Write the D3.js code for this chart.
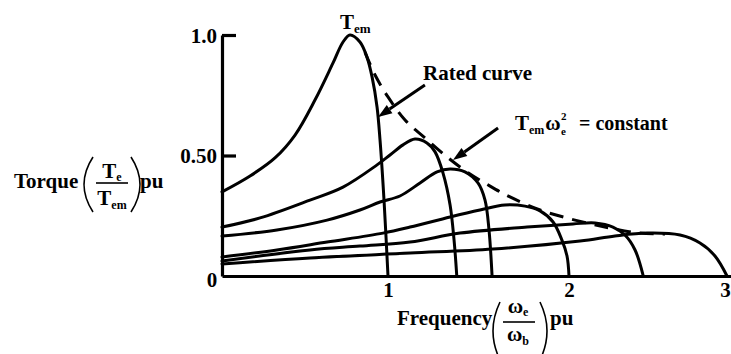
<!DOCTYPE html>
<html>
<head>
<meta charset="utf-8">
<script src="https://cdn.jsdelivr.net/npm/d3@7"></script>
<style>
  html, body { margin: 0; padding: 0; background: #fff; }
  svg { display: block; }
  text { font-family: "Liberation Serif", "Times New Roman", serif; font-weight: bold; fill: #000; }
</style>
</head>
<body>
<svg id="chart" width="731" height="354"></svg>
<script>
// Frequency (pu) and torque (pu) ticks
const freqTicks = [1, 2, 3];
const torqueTicks = [0.5, 1.0];
const torqueTickLabels = ["0.50", "1.0"];

// Torque-speed curves, [frequency pu, torque pu]
const ratedCurve = [
  [0, 0.349], [0.169, 0.415], [0.319, 0.490], [0.440, 0.585], [0.560, 0.730],
  [0.669, 0.884], [0.729, 0.971], [0.771, 1.0], [0.831, 0.971],
  [0.873, 0.909], [0.904, 0.826], [0.934, 0.701], [0.952, 0.564], [0.976, 0.315],
  [1.0, 0]
];
const curve2 = [
  [0, 0.203], [0.229, 0.241], [0.530, 0.315], [0.729, 0.369], [0.934, 0.461],
  [1.011, 0.502], [1.083, 0.544], [1.149, 0.568], [1.215, 0.552], [1.260, 0.515],
  [1.304, 0.427], [1.343, 0.295], [1.365, 0.149], [1.38, 0]
];
const curve3 = [
  [0, 0.166], [0.331, 0.191], [0.633, 0.232], [0.831, 0.274], [0.952, 0.307],
  [1.066, 0.332], [1.177, 0.386], [1.271, 0.432], [1.343, 0.444], [1.425, 0.432],
  [1.497, 0.386], [1.536, 0.315], [1.558, 0.191], [1.575, 0]
];
const curve4 = [
  [0, 0.079], [0.331, 0.108], [0.633, 0.141], [0.970, 0.178], [1.122, 0.203],
  [1.343, 0.245], [1.508, 0.274], [1.646, 0.295], [1.757, 0.290], [1.840, 0.270],
  [1.912, 0.224], [1.961, 0.149], [1.989, 0.083], [2.0, 0]
];
const curve5 = [
  [0, 0.062], [0.530, 0.108], [0.831, 0.124], [1.122, 0.141], [1.398, 0.178],
  [1.768, 0.203], [2.025, 0.216], [2.165, 0.220], [2.278, 0.203], [2.354, 0.170],
  [2.418, 0.108], [2.47, 0]
];
const curve6 = [
  [0, 0.050], [0.530, 0.075], [1.122, 0.095], [1.580, 0.112], [2.070, 0.145],
  [2.291, 0.166], [2.494, 0.178], [2.703, 0.170], [2.829, 0.137], [2.924, 0.083],
  [3.0, 0]
];
const curves = [ratedCurve, curve2, curve3, curve4, curve5, curve6];

// Constant-power envelope (Tem * we^2 = constant)
const envelope = [
  [0.861, 0.929], [0.922, 0.834], [1.0, 0.743], [1.094, 0.647], [1.204, 0.573],
  [1.326, 0.494], [1.436, 0.432], [1.564, 0.373], [1.674, 0.328], [1.840, 0.274],
  [2.038, 0.232], [2.259, 0.199], [2.449, 0.178], [2.608, 0.174]
];

// Annotation arrows, [from, to] in data units
const ratedArrow = [[1.204, 0.793], [0.940, 0.660]];
const constantArrow = [[1.608, 0.614], [1.359, 0.481]];

const svg = d3.select("#chart");

// The frequency axis is drawn with slightly uneven unit spacing
const x = d3.scaleLinear().domain([0, 1, 2, 3, 3.025]).range([222, 388, 569, 727, 731]);
const y = d3.scaleLinear().domain([0, 1]).range([276, 35]);

const line = d3.line()
  .x(d => x(d[0]))
  .y(d => y(d[1]))
  .curve(d3.curveCatmullRom.alpha(0.5));

// Axes
const yAxis = svg.append("g")
  .attr("transform", `translate(${x(0)},0)`)
  .call(d3.axisLeft(y).tickValues(torqueTicks).tickSize(-14).tickSizeOuter(0)
    .tickFormat((d, i) => torqueTickLabels[i]).tickPadding(20));
yAxis.select(".domain").attr("stroke", "#000").attr("stroke-width", 3.2);
yAxis.selectAll(".tick line").attr("stroke", "#000").attr("stroke-width", 3.2);
yAxis.selectAll(".tick text")
  .attr("font-family", "Liberation Serif").attr("font-weight", "bold")
  .attr("font-size", 21).attr("x", -5).attr("dy", "0.35em");

const xAxis = svg.append("g")
  .attr("transform", `translate(0,${y(0)})`)
  .call(d3.axisBottom(x).tickValues(freqTicks).tickSize(0).tickSizeOuter(0)
    .tickFormat(d3.format("d")).tickPadding(6));
xAxis.select(".domain").attr("stroke", "#000").attr("stroke-width", 3.2);
xAxis.selectAll(".tick text")
  .attr("font-family", "Liberation Serif").attr("font-weight", "bold")
  .attr("font-size", 21).attr("dy", "0.71em");
xAxis.selectAll(".tick").filter(d => d === 3).select("text").attr("dx", -2);

svg.append("text").attr("x", x(0) - 10).attr("y", y(0) + 11)
  .attr("text-anchor", "middle").attr("font-size", 21).text("0");

// Curves
svg.append("g").selectAll("path").data(curves).join("path")
  .attr("d", line)
  .attr("fill", "none").attr("stroke", "#000")
  .attr("stroke-width", 3).attr("stroke-linejoin", "round").attr("stroke-linecap", "round");

svg.append("path").datum(envelope)
  .attr("d", line)
  .attr("fill", "none").attr("stroke", "#000")
  .attr("stroke-width", 3).attr("stroke-dasharray", "14,9");

// Arrows
function arrow(a) {
  const x1 = x(a[0][0]), y1 = y(a[0][1]), x2 = x(a[1][0]), y2 = y(a[1][1]);
  const ang = Math.atan2(y2 - y1, x2 - x1);
  const len = 14, half = 5;
  const bx = x2 - len * Math.cos(ang), by = y2 - len * Math.sin(ang);
  svg.append("line").attr("x1", x1).attr("y1", y1).attr("x2", bx).attr("y2", by)
    .attr("stroke", "#000").attr("stroke-width", 3);
  svg.append("path")
    .attr("d", `M${x2},${y2}L${bx - half * Math.sin(ang)},${by + half * Math.cos(ang)}` +
      `L${bx + half * Math.sin(ang)},${by - half * Math.cos(ang)}Z`)
    .attr("fill", "#000");
}
arrow(ratedArrow);
arrow(constantArrow);

// Labels
const tem = svg.append("text").attr("x", 340).attr("y", 29).attr("font-size", 21);
tem.append("tspan").text("T");
tem.append("tspan").attr("font-size", 13).attr("dy", 4).text("em");

svg.append("text").attr("x", 423).attr("y", 80).attr("font-size", 21).text("Rated curve");

// Tem·ωe² = constant, built from pieces so the exponent sits over the subscript
const cst = svg.append("text").attr("x", 515).attr("y", 130).attr("font-size", 21);
cst.append("tspan").text("T");
cst.append("tspan").attr("font-size", 12).attr("dy", 4).text("em");
cst.append("tspan").attr("dy", -4).attr("dx", 1).text("ω");
svg.append("text").attr("x", 561).attr("y", 135).attr("font-size", 11).text("e");
svg.append("text").attr("x", 561).attr("y", 120).attr("font-size", 11).text("2");
svg.append("text").attr("x", 579).attr("y", 130).attr("font-size", 20).text("= constant");

// Torque axis title
svg.append("text").attr("x", 14).attr("y", 188).attr("font-size", 21).text("Torque");
const tNum = svg.append("text").attr("x", 112).attr("y", 178).attr("font-size", 21).attr("text-anchor", "middle");
tNum.append("tspan").text("T");
tNum.append("tspan").attr("font-size", 12).attr("dy", 3).text("e");
const tDen = svg.append("text").attr("x", 112).attr("y", 205).attr("font-size", 21).attr("text-anchor", "middle");
tDen.append("tspan").text("T");
tDen.append("tspan").attr("font-size", 12).attr("dy", 4).text("em");
svg.append("line").attr("x1", 96).attr("x2", 128).attr("y1", 183).attr("y2", 183)
  .attr("stroke", "#000").attr("stroke-width", 1.6);
svg.append("path").attr("d", "M93,157Q75,184.5 93,212").attr("fill", "none").attr("stroke", "#000").attr("stroke-width", 1.6);
svg.append("path").attr("d", "M131,157Q149,184.5 131,212").attr("fill", "none").attr("stroke", "#000").attr("stroke-width", 1.6);
svg.append("text").attr("x", 140).attr("y", 188).attr("font-size", 21).text("pu");

// Frequency axis title
svg.append("text").attr("x", 397).attr("y", 325).attr("font-size", 21).text("Frequency");
const fNum = svg.append("text").attr("x", 518).attr("y", 313).attr("font-size", 21).attr("text-anchor", "middle");
fNum.append("tspan").text("ω");
fNum.append("tspan").attr("font-size", 12).attr("dy", 3).text("e");
const fDen = svg.append("text").attr("x", 518).attr("y", 341).attr("font-size", 21).attr("text-anchor", "middle");
fDen.append("tspan").text("ω");
fDen.append("tspan").attr("font-size", 12).attr("dy", 4).text("b");
svg.append("line").attr("x1", 503).attr("x2", 535).attr("y1", 322).attr("y2", 322)
  .attr("stroke", "#000").attr("stroke-width", 1.6);
svg.append("path").attr("d", "M500,302Q486,331 500,360").attr("fill", "none").attr("stroke", "#000").attr("stroke-width", 1.6);
svg.append("path").attr("d", "M540,302Q554,331 540,360").attr("fill", "none").attr("stroke", "#000").attr("stroke-width", 1.6);
svg.append("text").attr("x", 550).attr("y", 325).attr("font-size", 21).text("pu");
</script>
</body>
</html>
